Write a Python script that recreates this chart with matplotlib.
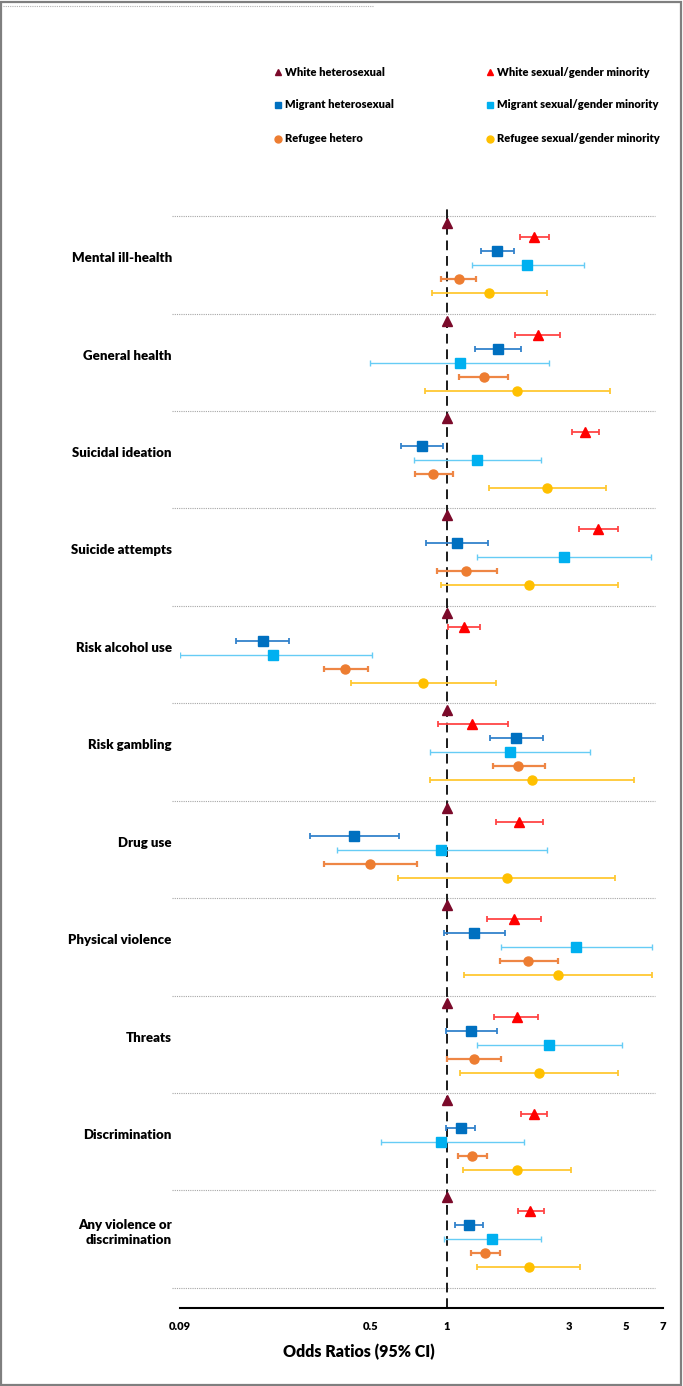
import matplotlib
matplotlib.use("Agg")
import matplotlib.pyplot as plt
from matplotlib.patches import Rectangle

plt.rcParams['font.family'] = ['Lato', 'DejaVu Sans']
plt.rcParams['font.weight'] = 'heavy'

# outcomes, top to bottom
outcomes = ["Mental ill-health", "General health", "Suicidal ideation", "Suicide attempts",
            "Risk alcohol use", "Risk gambling", "Drug use", "Physical violence",
            "Threats", "Discrimination", "Any violence or\ndiscrimination"]

# reference group (white heterosexual) = 1
white_het_or = [1, 1, 1, 1, 1, 1, 1, 1, 1, 1, 1]

white_sgm_or = [2.19, 2.26, 3.46, 3.91, 1.16, 1.25, 1.92, 1.82, 1.87, 2.18, 2.12]
white_sgm_lo = [1.93, 1.85, 3.08, 3.28, 1.01, 0.92, 1.56, 1.43, 1.53, 1.94, 1.90]
white_sgm_hi = [2.50, 2.77, 3.92, 4.65, 1.35, 1.73, 2.38, 2.33, 2.27, 2.46, 2.39]

mig_het_or = [1.57, 1.58, 0.80, 1.09, 0.19, 1.86, 0.43, 1.27, 1.24, 1.13, 1.22]
mig_het_lo = [1.36, 1.29, 0.66, 0.83, 0.149, 1.47, 0.29, 0.97, 0.99, 0.99, 1.07]
mig_het_hi = [1.83, 1.94, 0.96, 1.44, 0.24, 2.38, 0.65, 1.68, 1.57, 1.29, 1.38]

mig_sgm_or = [2.05, 1.12, 1.31, 2.87, 0.209, 1.76, 0.95, 3.20, 2.51, 0.95, 1.50]
mig_sgm_lo = [1.25, 0.50, 0.74, 1.31, 0.09, 0.86, 0.37, 1.62, 1.31, 0.55, 0.97]
mig_sgm_hi = [3.42, 2.51, 2.33, 6.29, 0.509, 3.62, 2.46, 6.32, 4.85, 2.00, 2.34]

ref_het_or = [1.11, 1.39, 0.88, 1.19, 0.40, 1.90, 0.50, 2.08, 1.27, 1.25, 1.41]
ref_het_lo = [0.95, 1.11, 0.75, 0.91, 0.33, 1.51, 0.33, 1.61, 1.00, 1.10, 1.24]
ref_het_hi = [1.30, 1.73, 1.05, 1.57, 0.49, 2.42, 0.76, 2.71, 1.62, 1.43, 1.61]

ref_sgm_or = [1.46, 1.88, 2.47, 2.10, 0.805, 2.14, 1.72, 2.71, 2.28, 1.87, 2.09]
ref_sgm_lo = [0.87, 0.82, 1.46, 0.95, 0.42, 0.86, 0.64, 1.16, 1.12, 1.15, 1.31]
ref_sgm_hi = [2.47, 4.33, 4.18, 4.65, 1.55, 5.39, 4.56, 6.33, 4.65, 3.05, 3.32]

tick_vals = [0.09, 0.5, 1, 3, 5, 7]
tick_labels = ["0.09", "0.5", "1", "3", "5", "7"]

# (label, or, lo, hi, marker, colour, bar colour, bar width, marker size)
series = [
    ("White sexual/gender minority", white_sgm_or, white_sgm_lo, white_sgm_hi, '^', '#FF0000', '#FF4545', 1.3, 7),
    ("Migrant heterosexual", mig_het_or, mig_het_lo, mig_het_hi, 's', '#0070C0', '#3382CC', 1.3, 7),
    ("Migrant sexual/gender minority", mig_sgm_or, mig_sgm_lo, mig_sgm_hi, 's', '#00B0F0', '#66CCF5', 1.0, 7),
    ("Refugee hetero", ref_het_or, ref_het_lo, ref_het_hi, 'o', '#ED7D31', '#EE8645', 1.6, 6.5),
    ("Refugee sexual/gender minority", ref_sgm_or, ref_sgm_lo, ref_sgm_hi, 'o', '#FFC000', '#FFC833', 1.3, 6.5),
]
wh_color = '#7B0A2A'

W, H = 683, 1386
fig = plt.figure(figsize=(W / 100, H / 100), dpi=100)
ax = fig.add_axes([180 / W, 1 - 1308 / H, 483 / W, 1103 / H])

step = 6.96
n = len(outcomes)
base = [g * step for g in range(n)]

ax.set_xscale('log')
ax.set_xlim(0.09, 7)
ax.set_ylim(77.5, -1.3)

# separators between outcome blocks
for g in range(n + 1):
    ax.plot([-0.017, 0.983], [g * step - 0.5] * 2, transform=ax.get_yaxis_transform(),
            color='#A6A6A6', lw=0.8, ls=(0, (1, 1)), clip_on=False, zorder=1)

ax.axvline(1, color='#1A1A1A', lw=1.4, ls=(0, (5, 3)), zorder=2)

ax.plot(white_het_or, base, ls='none', marker='^', ms=7, color=wh_color, zorder=5)
for j, (lab, orv, lo, hi, mk, col, bcol, blw, ms) in enumerate(series, start=1):
    ys = [b + j for b in base]
    err = [[o - l for o, l in zip(orv, lo)], [h - o for o, h in zip(orv, hi)]]
    ax.errorbar(orv, ys, xerr=err, fmt='none', ecolor=bcol, elinewidth=blw,
                capsize=2.5, capthick=blw, zorder=3)
    ax.plot(orv, ys, ls='none', marker=mk, ms=ms, color=col,
            markeredgecolor=col, zorder=5)

for g, name in enumerate(outcomes):
    ax.text(-0.017, base[g] + 2.5, name, transform=ax.get_yaxis_transform(),
            ha='right', va='center', fontsize=9.5, fontweight='heavy',
            linespacing=1.3)

for s in ['top', 'right', 'left']:
    ax.spines[s].set_visible(False)
ax.spines['bottom'].set_linewidth(1.5)
ax.spines['bottom'].set_color('black')
ax.set_yticks([])
ax.set_xticks(tick_vals)
ax.set_xticklabels(tick_labels, fontsize=8, fontweight='heavy')
ax.xaxis.set_minor_locator(matplotlib.ticker.NullLocator())
ax.tick_params(axis='x', length=0, pad=9)

fig.text(359 / W, 1 - 1352 / H, "Odds Ratios (95% CI)", ha='center', va='center',
         fontsize=11.5, fontweight='heavy')

# legend drawn in pixel space
leg = fig.add_axes([0, 0, 1, 1], zorder=-1)
leg.set_xlim(0, W)
leg.set_ylim(H, 0)
leg.axis('off')
leg_items = [("White heterosexual", '^', wh_color, 278, 72),
             (series[0][0], '^', series[0][5], 490, 72),
             (series[1][0], 's', series[1][5], 278, 105),
             (series[2][0], 's', series[2][5], 490, 105),
             (series[3][0], 'o', series[3][5], 278, 139),
             (series[4][0], 'o', series[4][5], 490, 139)]
for lab, mk, col, lx, ly in leg_items:
    leg.plot([lx], [ly], marker=mk, ms=5, color=col, ls='none')
    leg.text(lx + 7, ly, lab, ha='left', va='center', fontsize=8, fontweight='heavy')

leg.plot([3, 373], [6, 6], color='#B0B0B0', lw=0.8, ls=(0, (1, 1)))
fig.add_artist(Rectangle((1 / W, 1 / H), (W - 3) / W, (H - 3) / H, transform=fig.transFigure,
                         fill=False, edgecolor='#7F7F7F', lw=1.6))

fig.savefig("out.png", dpi=100)
